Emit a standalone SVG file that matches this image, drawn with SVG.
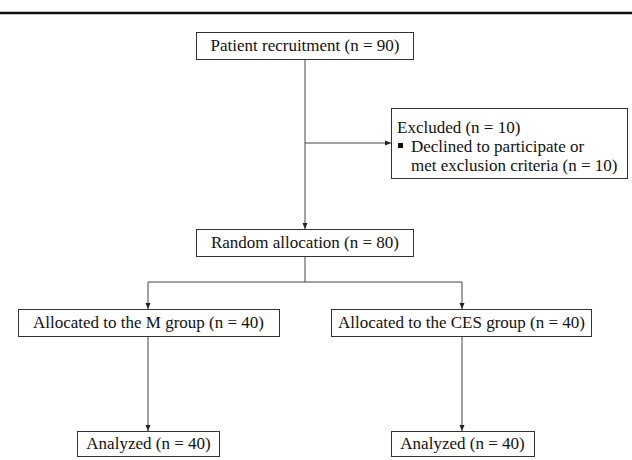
<svg xmlns="http://www.w3.org/2000/svg" width="632" height="460" viewBox="0 0 632 460">
<defs>
<marker id="ah" markerWidth="6" markerHeight="6" refX="6" refY="3" orient="auto" markerUnits="userSpaceOnUse">
<path d="M0,0.5 L6,3 L0,5.5 Z" fill="#222"/>
</marker>
<style>
.box{fill:#fff;stroke:#333;stroke-width:1}
.t{font-family:"Liberation Serif","Times New Roman",serif;font-size:17px;fill:#111}
.c{text-anchor:middle}
.ln{fill:none;stroke:#444;stroke-width:1}
</style>
</defs>
<rect width="632" height="460" fill="#fff"/>
<line x1="0" y1="13" x2="632" y2="13" stroke="#111" stroke-width="2.5"/>
<g id="connectors">
<line class="ln" x1="305" y1="59" x2="305" y2="229" marker-end="url(#ah)"/>
<line class="ln" x1="305" y1="143" x2="391" y2="143" marker-end="url(#ah)"/>
<polyline class="ln" points="305,256 305,282 148,282 148,309" marker-end="url(#ah)"/>
<polyline class="ln" points="305,282 462,282 462,309" marker-end="url(#ah)"/>
<line class="ln" x1="148" y1="336" x2="148" y2="431" marker-end="url(#ah)"/>
<line class="ln" x1="462" y1="336" x2="462" y2="431" marker-end="url(#ah)"/>
</g>
<g id="recruitment">
<rect class="box" x="196.5" y="32.5" width="217" height="27"/>
<text class="t c" x="305" y="51">Patient recruitment (n = 90)</text>
</g>
<g id="excluded">
<rect class="box" x="391.5" y="108.5" width="236" height="70"/>
<text class="t" x="397" y="133">Excluded (n = 10)</text>
<rect x="398" y="143" width="5" height="5" fill="#111"/>
<text class="t" x="411" y="152">Declined to participate or</text>
<text class="t" x="411" y="170.5">met exclusion criteria (n = 10)</text>
</g>
<g id="random">
<rect class="box" x="196.5" y="229.5" width="217" height="27"/>
<text class="t c" x="305" y="248">Random allocation (n = 80)</text>
</g>
<g id="mgroup">
<rect class="box" x="18.5" y="309.5" width="261" height="27"/>
<text class="t c" x="148.5" y="328">Allocated to the M group (n = 40)</text>
</g>
<g id="cesgroup">
<rect class="box" x="331.5" y="309.5" width="260" height="27"/>
<text class="t c" x="461.5" y="328">Allocated to the CES group (n = 40)</text>
</g>
<g id="analyzedM">
<rect class="box" x="77.5" y="431.5" width="142" height="25"/>
<text class="t c" x="148.5" y="449">Analyzed (n = 40)</text>
</g>
<g id="analyzedCES">
<rect class="box" x="391.5" y="431.5" width="143" height="25"/>
<text class="t c" x="462.5" y="449">Analyzed (n = 40)</text>
</g>
</svg>
